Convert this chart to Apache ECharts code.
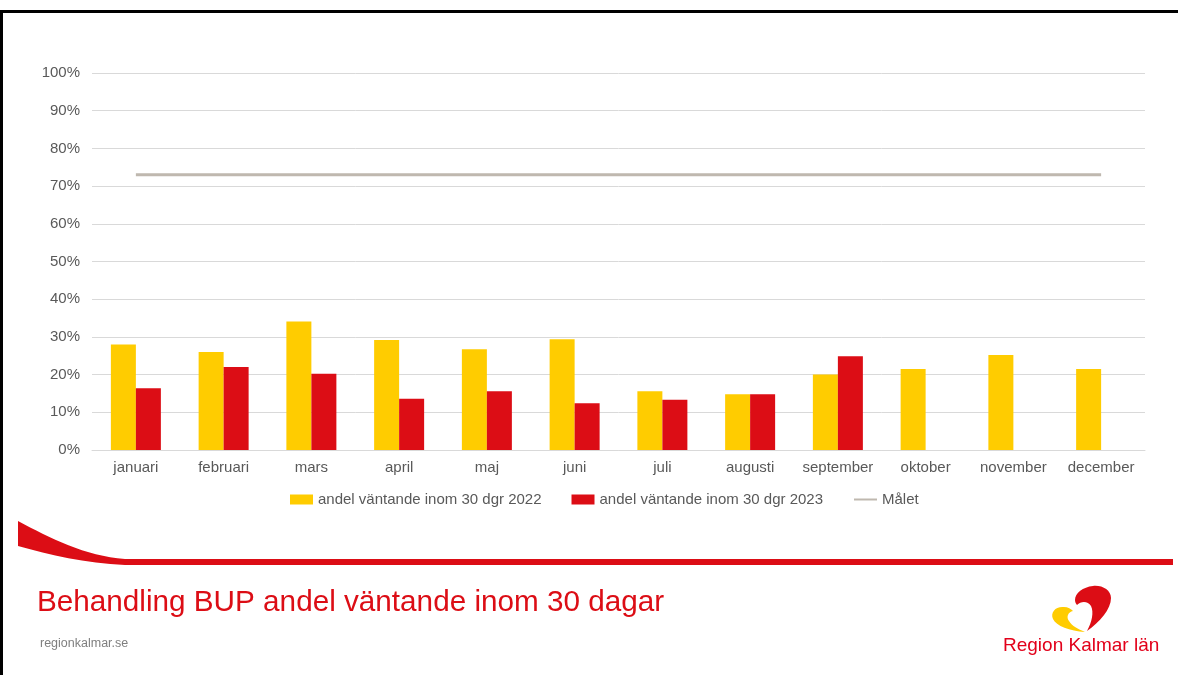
<!DOCTYPE html>
<html>
<head>
<meta charset="utf-8">
<script src="https://cdn.jsdelivr.net/npm/echarts@6/dist/echarts.min.js"></script>
<style>
  html, body { margin: 0; padding: 0; background: #fff; }
  #chart { width: 1178px; height: 675px; }
</style>
</head>
<body>
<div id="chart"></div>
<script>
var months = ["januari", "februari", "mars", "april", "maj", "juni", "juli", "augusti", "september", "oktober", "november", "december"];
var share2022 = [28.0, 26.0, 34.1, 29.2, 26.7, 29.4, 15.6, 14.8, 20.0, 21.5, 25.2, 21.5];
var share2023 = [16.4, 22.0, 20.2, 13.6, 15.6, 12.4, 13.3, 14.8, 24.9, null, null, null];
var goal = [73, 73, 73, 73, 73, 73, 73, 73, 73, 73, 73, 73];
var seriesNames = ["andel väntande inom 30 dgr 2022", "andel väntande inom 30 dgr 2023", "Målet"];

var font = 'Arial, "Liberation Sans", sans-serif';
var red = "#dc0d15";
var yellow = "#ffcc00";

// decorative slide shapes (swoosh + logo)
echarts.graphic.registerShape("swoosh", echarts.graphic.extendPath(
  "M18 521 C50 538 85 556 125 559 L1173 559 L1173 565 L125 565 C85 563 50 555 18 546 Z", {}));
echarts.graphic.registerShape("logoRed", echarts.graphic.extendPath(
  "M1087 631 C1100 622 1111 609 1111 598 C1111 590 1102 585 1093 586 C1083 587 1075 593 1075 600 C1075 602 1076 604 1077 605 C1081 601 1088 601 1091 606 C1094 612 1092 622 1087 631 Z", {}));
echarts.graphic.registerShape("logoYellow", echarts.graphic.extendPath(
  "M1085 632 C1070 631 1056 626 1053 619 C1050 612 1056 606 1064 607 C1068 607 1071 609 1073 611 C1068 612 1066 617 1069 621 C1072 626 1078 629 1085 632 Z", {}));

var myChart = echarts.init(document.getElementById("chart"));
var option = {
  animation: false,
  textStyle: { fontFamily: font },
  grid: { left: 92, right: 33, top: 73, bottom: 225 },
  legend: {
    left: 285,
    top: 487,
    itemGap: 30,
    itemWidth: 23,
    itemHeight: 10,
    itemStyle: { borderWidth: 0 },
    textStyle: { color: "#595959", fontSize: 15, fontFamily: font },
    data: [
      { name: seriesNames[0], icon: "rect" },
      { name: seriesNames[1], icon: "rect" },
      { name: seriesNames[2], itemStyle: { opacity: 0 } }
    ]
  },
  xAxis: {
    type: "category",
    data: months,
    axisTick: { show: false },
    axisLine: { lineStyle: { color: "#d9d9d9", width: 1 } },
    axisLabel: { color: "#595959", fontSize: 15, margin: 10, interval: 0, fontFamily: font }
  },
  yAxis: {
    type: "value",
    min: 0,
    max: 100,
    interval: 10,
    axisLine: { show: false },
    axisTick: { show: false },
    splitLine: { lineStyle: { color: "#d9d9d9", width: 1 } },
    axisLabel: { color: "#595959", fontSize: 15, margin: 12, formatter: "{value}%", fontFamily: font }
  },
  series: [
    {
      name: seriesNames[0],
      type: "bar",
      data: share2022,
      barWidth: 25,
      barGap: "0%",
      itemStyle: { color: yellow }
    },
    {
      name: seriesNames[1],
      type: "bar",
      data: share2023,
      barWidth: 25,
      barGap: "0%",
      itemStyle: { color: red }
    },
    {
      name: seriesNames[2],
      type: "line",
      data: goal,
      symbol: "none",
      lineStyle: { color: "#bfb8af", width: 3 },
      itemStyle: { color: "#bfb8af" }
    }
  ],
  graphic: [
    {
      type: "rect",
      shape: { x: 1.5, y: 11.5, width: 1300, height: 800 },
      style: { fill: null, stroke: "#000", lineWidth: 3 },
      silent: true
    },
    { type: "swoosh", style: { fill: red }, silent: true },
    {
      type: "text",
      left: 37,
      top: 588,
      style: { text: "Behandling BUP andel väntande inom 30 dagar", fill: red, font: "29.7px " + font }
    },
    {
      type: "text",
      left: 40,
      top: 637,
      style: { text: "regionkalmar.se", fill: "#7f7f7f", font: "12.5px " + font }
    },
    { type: "logoRed", style: { fill: red }, silent: true },
    { type: "logoYellow", style: { fill: yellow }, silent: true },
    {
      type: "text",
      left: 1003,
      top: 636,
      style: { text: "Region Kalmar län", fill: "#e2001a", font: "19px " + font }
    }
  ]
};
option && myChart.setOption(option);
</script>
</body>
</html>
